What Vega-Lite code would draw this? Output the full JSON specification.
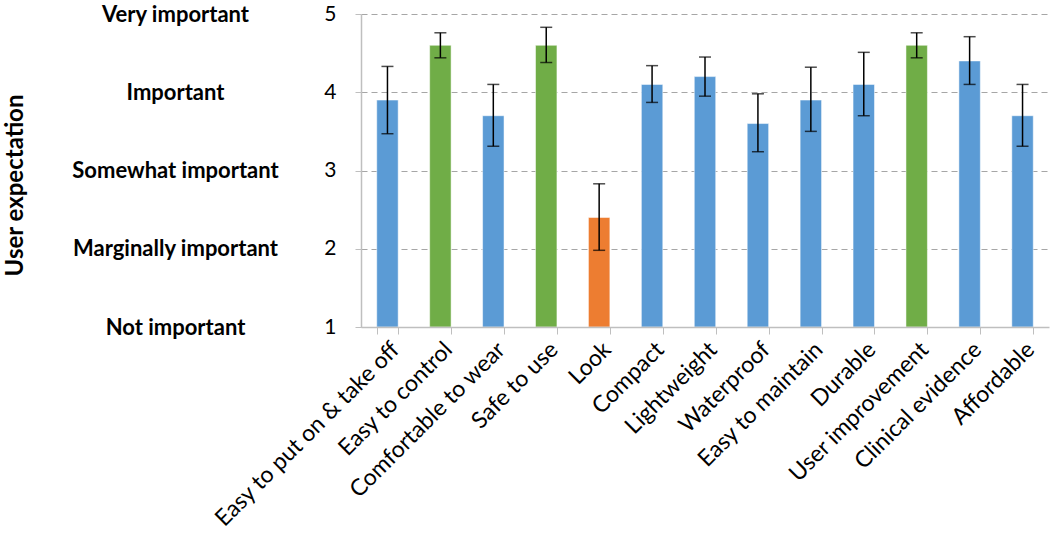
{
  "$schema": "https://vega.github.io/schema/vega-lite/v6.json",
  "width": 688,
  "height": 313,
  "autosize": {"type": "none"},
  "padding": {"left": 361, "top": 14, "right": 1, "bottom": 212},
  "background": "white",
  "config": {"view": {"stroke": null}, "font": "Lato"},
  "data": {
    "values": [
      {"item": "Easy to put on & take off", "value": 3.9, "lo": 3.47, "hi": 4.33, "group": "normal"},
      {"item": "Easy to control", "value": 4.6, "lo": 4.44, "hi": 4.76, "group": "high"},
      {"item": "Comfortable to wear", "value": 3.7, "lo": 3.31, "hi": 4.1, "group": "normal"},
      {"item": "Safe to use", "value": 4.6, "lo": 4.38, "hi": 4.83, "group": "high"},
      {"item": "Look", "value": 2.4, "lo": 1.98, "hi": 2.83, "group": "low"},
      {"item": "Compact", "value": 4.1, "lo": 3.87, "hi": 4.34, "group": "normal"},
      {"item": "Lightweight", "value": 4.2, "lo": 3.95, "hi": 4.45, "group": "normal"},
      {"item": "Waterproof", "value": 3.6, "lo": 3.24, "hi": 3.98, "group": "normal"},
      {"item": "Easy to maintain", "value": 3.9, "lo": 3.5, "hi": 4.32, "group": "normal"},
      {"item": "Durable", "value": 4.1, "lo": 3.7, "hi": 4.51, "group": "normal"},
      {"item": "User improvement", "value": 4.6, "lo": 4.44, "hi": 4.76, "group": "high"},
      {"item": "Clinical evidence", "value": 4.4, "lo": 4.1, "hi": 4.71, "group": "normal"},
      {"item": "Affordable", "value": 3.7, "lo": 3.31, "hi": 4.1, "group": "normal"}
    ]
  },
  "encoding": {
    "x": {
      "field": "item",
      "type": "nominal",
      "sort": null,
      "scale": {"paddingInner": 0.595, "paddingOuter": 0.2975},
      "axis": {
        "title": null,
        "labelAngle": -45,
        "labelFontSize": 23,
        "labelColor": "#000000",
        "labelPadding": 4,
        "tickBand": "extent",
        "tickSize": 7,
        "tickColor": "#bfbfbf",
        "domainColor": "#bfbfbf",
        "domainWidth": 1.5,
        "zindex": 2,
        "labelLimit": 400
      }
    }
  },
  "layer": [
    {
      "mark": {"type": "bar", "strokeWidth": 1, "strokeOpacity": 0.5, "stroke": "#ffffff"},
      "encoding": {
        "y": {
          "field": "value",
          "type": "quantitative",
          "scale": {"domain": [1, 5], "zero": false, "nice": false},
          "axis": {
            "values": [1, 2, 3, 4, 5],
            "format": "d",
            "labelFontSize": 21,
            "labelColor": "#000000",
            "labelPadding": 19,
            "tickSize": 6,
            "tickColor": "#bfbfbf",
            "domainColor": "#bfbfbf",
            "domainWidth": 1.5,
            "grid": true,
            "gridColor": "#a6a6a6",
            "gridDash": [6, 4],
            "gridWidth": 1.2,
            "title": "User expectation",
            "titleFontSize": 24,
            "titleFontWeight": "bold",
            "titleColor": "#000000",
            "titleX": -346,
            "titleY": 171,
            "titleAngle": -90,
            "titleAlign": "center",
            "titleBaseline": "middle"
          }
        },
        "y2": {"datum": 1},
        "color": {
          "field": "group",
          "type": "nominal",
          "scale": {"domain": ["normal", "high", "low"], "range": ["#5b9bd5", "#70ad47", "#ed7d31"]},
          "legend": null
        }
      }
    },
    {
      "mark": {"type": "rule", "color": "#000000", "strokeWidth": 1.5},
      "encoding": {
        "y": {
          "field": "lo",
          "type": "quantitative",
          "axis": {
            "orient": "left",
            "values": [1, 2, 3, 4, 5],
            "labelExpr": "datum.value == 5 ? 'Very important' : datum.value == 4 ? 'Important' : datum.value == 3 ? 'Somewhat important' : datum.value == 2 ? 'Marginally important' : 'Not important'",
            "labelFontSize": 22,
            "labelFontWeight": "bold",
            "labelColor": "#000000",
            "labelAlign": "center",
            "labelPadding": 186,
            "labelLimit": 400,
            "ticks": false,
            "domain": false,
            "grid": false,
            "title": null
          }
        },
        "y2": {"field": "hi"}
      }
    },
    {
      "mark": {"type": "tick", "color": "#000000", "size": 12, "thickness": 1.5, "orient": "horizontal"},
      "encoding": {"y": {"field": "lo", "type": "quantitative", "axis": null}}
    },
    {
      "mark": {"type": "tick", "color": "#000000", "size": 12, "thickness": 1.5, "orient": "horizontal"},
      "encoding": {"y": {"field": "hi", "type": "quantitative", "axis": null}}
    }
  ],
  "resolve": {"axis": {"y": "independent"}}
}
